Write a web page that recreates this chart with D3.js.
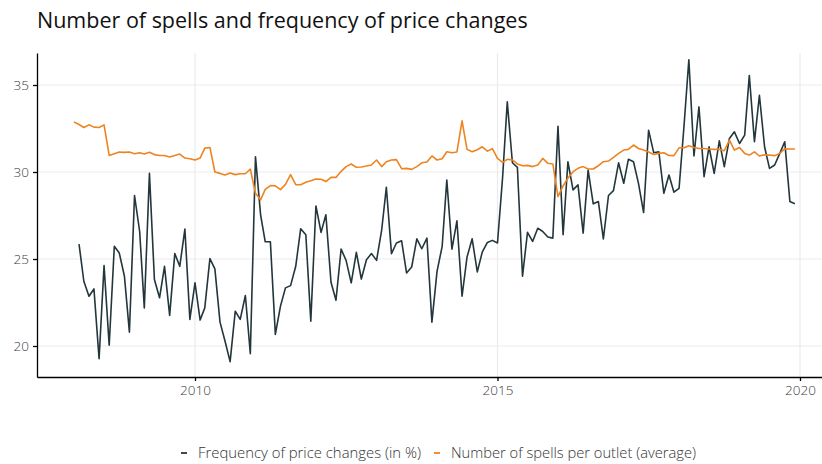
<!DOCTYPE html>
<meta charset='utf-8'>
<style>
body { margin: 0; background: #fff; }
svg text { font-family: 'Open Sans', 'Noto Sans', sans-serif; }
.title { font-size: 21.5px; font-weight: 400; fill: #111; }
.tick text { font-size: 13.5px; font-weight: 300; fill: #3d3d3d; }
.legend text { font-size: 14.5px; font-weight: 300; fill: #333; }
.grid line { stroke: #ebebeb; stroke-width: 1.2px; }
</style>
<svg width='822' height='464'></svg>
<script src='https://d3js.org/d3.v7.min.js'></script>
<script>

// months from Jan 2008 to Dec 2019 (144 months)
var startYear = 2008, nMonths = 144;

// Frequency of price changes (in %), starts Feb 2008
var freq = [
  25.86, 23.72, 22.86, 23.28, 19.27, 24.62, 20.04, 25.73, 25.34, 24.01, 20.80,
  28.65, 26.58, 22.19, 29.92, 23.82, 22.77, 24.58, 21.76, 25.31, 24.58, 26.72, 21.53,
  23.63, 21.49, 22.19, 25.02, 24.43, 21.37, 20.29, 19.10, 22.00, 21.53, 22.90, 19.56,
  30.88, 27.54, 25.99, 25.99, 20.67, 22.29, 23.34, 23.47, 24.58, 26.74, 26.39, 21.43,
  28.05, 26.53, 27.54, 23.66, 22.63, 25.57, 24.92, 23.63, 25.38, 23.85, 24.96, 25.31,
  24.92, 26.68, 29.12, 25.31, 25.92, 26.05, 24.20, 24.54, 26.16, 25.59, 26.20, 21.37,
  24.29, 25.73, 29.54, 25.57, 27.19, 22.86, 25.11, 26.16, 24.26, 25.40, 25.95, 26.07,
  25.92, 29.73, 34.03, 30.53, 30.27, 24.01, 26.53, 26.01, 26.77, 26.58, 26.26, 26.20,
  32.63, 26.39, 30.59, 28.97, 29.26, 26.49, 30.11, 28.17, 28.30, 26.15, 28.65, 28.93,
  30.53, 29.35, 30.73, 30.59, 29.35, 27.67, 32.40, 31.11, 31.16, 28.78, 29.83, 28.84,
  29.06, 32.79, 36.45, 30.92, 33.74, 29.73, 31.45, 29.92, 31.79, 30.31, 31.93, 32.31,
  31.64, 32.12, 35.55, 31.74, 34.41, 31.45, 30.21, 30.40, 31.07, 31.74, 28.30, 28.17
];

// Number of spells per outlet (average), starts Jan 2008
var spells = [
  32.88, 32.73, 32.56, 32.71, 32.58, 32.56, 32.71, 30.95, 31.05, 31.15, 31.13, 31.15,
  31.05, 31.11, 31.03, 31.13, 31.00, 30.95, 30.95, 30.86, 30.95, 31.03, 30.80, 30.76,
  30.69, 30.80, 31.37, 31.41, 30.00, 29.92, 29.83, 29.94, 29.85, 29.90, 29.90, 30.17,
  28.78, 28.40, 29.00, 29.22, 29.20, 28.99, 29.29, 29.85, 29.27, 29.27, 29.41, 29.50,
  29.60, 29.58, 29.45, 29.69, 29.69, 30.04, 30.31, 30.46, 30.27, 30.29, 30.34, 30.40,
  30.69, 30.31, 30.59, 30.69, 30.71, 30.19, 30.21, 30.15, 30.31, 30.53, 30.57, 30.92,
  30.69, 30.76, 31.16, 31.11, 31.15, 32.94, 31.30, 31.16, 31.28, 31.45, 31.20, 31.34,
  30.78, 30.55, 30.73, 30.69, 30.46, 30.36, 30.38, 30.31, 30.40, 30.78, 30.50, 30.46,
  28.59, 29.20, 29.64, 30.02, 30.21, 30.31, 30.17, 30.17, 30.36, 30.59, 30.63, 30.84,
  31.07, 31.26, 31.30, 31.55, 31.35, 31.26, 31.15, 31.01, 31.07, 31.11, 30.95, 30.94,
  31.39, 31.39, 31.51, 31.41, 31.35, 31.35, 31.32, 31.30, 31.30, 31.22, 31.83, 31.26,
  31.41, 31.07, 30.97, 31.16, 30.92, 30.99, 30.97, 30.94, 31.07, 31.34, 31.32, 31.32
];

var seriesNames = ['Frequency of price changes (in %)', 'Number of spells per outlet (average)'];
var seriesColors = ['#22363b', '#ee8420'];
var yTicks = [20, 25, 30, 35];
var xTickYears = [2010, 2015, 2020];

var svg = d3.select('svg');

var pLeft = 37, pRight = 822, pTop = 53, pBottom = 377;

// time axis: 2010 sits at 195px, 2020 at 800px
var xRef = d3.scaleTime()
  .domain([new Date(2010, 0, 1), new Date(2020, 0, 1)])
  .range([195, 800]);
var x = d3.scaleTime()
  .domain([xRef.invert(pLeft), xRef.invert(pRight)])
  .range([pLeft, pRight]);

var yRef = d3.scaleLinear().domain([20, 35]).range([346, 85]);
var y = d3.scaleLinear()
  .domain([yRef.invert(pBottom), yRef.invert(pTop)])
  .range([pBottom, pTop]);

var months = d3.range(nMonths).map(function(i) { return new Date(startYear, i, 1); });

var freqData = freq.map(function(v, i) { return { date: months[i + 1], value: v }; });
var spellData = spells.map(function(v, i) { return { date: months[i], value: v }; });

// grid
var grid = svg.append('g').attr('class', 'grid');
grid.selectAll('.h').data(yTicks).enter().append('line')
  .attr('x1', pLeft).attr('x2', pRight)
  .attr('y1', function(d) { return y(d); }).attr('y2', function(d) { return y(d); });
grid.selectAll('.v').data(xTickYears).enter().append('line')
  .attr('y1', pTop).attr('y2', pBottom)
  .attr('x1', function(d) { return x(new Date(d, 0, 1)); })
  .attr('x2', function(d) { return x(new Date(d, 0, 1)); });

// lines
var line = d3.line()
  .x(function(d) { return x(d.date); })
  .y(function(d) { return y(d.value); });

svg.append('path').datum(freqData)
  .attr('fill', 'none')
  .attr('stroke', seriesColors[0])
  .attr('stroke-width', 1.6)
  .attr('stroke-linejoin', 'round')
  .attr('d', line);

svg.append('path').datum(spellData)
  .attr('fill', 'none')
  .attr('stroke', seriesColors[1])
  .attr('stroke-width', 1.6)
  .attr('stroke-linejoin', 'round')
  .attr('d', line);

// axes
var xAxis = svg.append('g')
  .attr('transform', 'translate(0,' + pBottom + ')')
  .call(d3.axisBottom(x)
    .tickValues(xTickYears.map(function(d) { return new Date(d, 0, 1); }))
    .tickFormat(d3.timeFormat('%Y'))
    .tickSizeInner(4).tickSizeOuter(0).tickPadding(4));
xAxis.select('.domain').attr('stroke', '#000').attr('stroke-width', 1.3);
xAxis.selectAll('.tick line').attr('stroke', '#000').attr('stroke-width', 1.3);

var yAxis = svg.append('g')
  .attr('transform', 'translate(' + pLeft + ',0)')
  .call(d3.axisLeft(y).tickValues(yTicks)
    .tickSizeInner(4).tickSizeOuter(0).tickPadding(4));
yAxis.select('.domain').attr('stroke', '#000').attr('stroke-width', 1.3);
yAxis.selectAll('.tick line').attr('stroke', '#000').attr('stroke-width', 1.3);

// title
svg.append('text')
  .attr('class', 'title')
  .attr('x', 37)
  .attr('y', 28)
  .text('Number of spells and frequency of price changes');

// legend
var legend = svg.append('g').attr('class', 'legend')
  .attr('transform', 'translate(0,453)');
var keyX = [181, 434];
var labelWidth = [223, 245];
seriesNames.forEach(function(name, i) {
  legend.append('line')
    .attr('x1', keyX[i]).attr('x2', keyX[i] + 6)
    .attr('y1', 0).attr('y2', 0)
    .attr('stroke', seriesColors[i])
    .attr('stroke-width', 1.8);
  legend.append('text')
    .attr('x', keyX[i] + 17)
    .attr('y', 0)
    .attr('dy', '0.35em')
    .attr('textLength', labelWidth[i])
    .attr('lengthAdjust', 'spacingAndGlyphs')
    .text(name);
});

</script>
